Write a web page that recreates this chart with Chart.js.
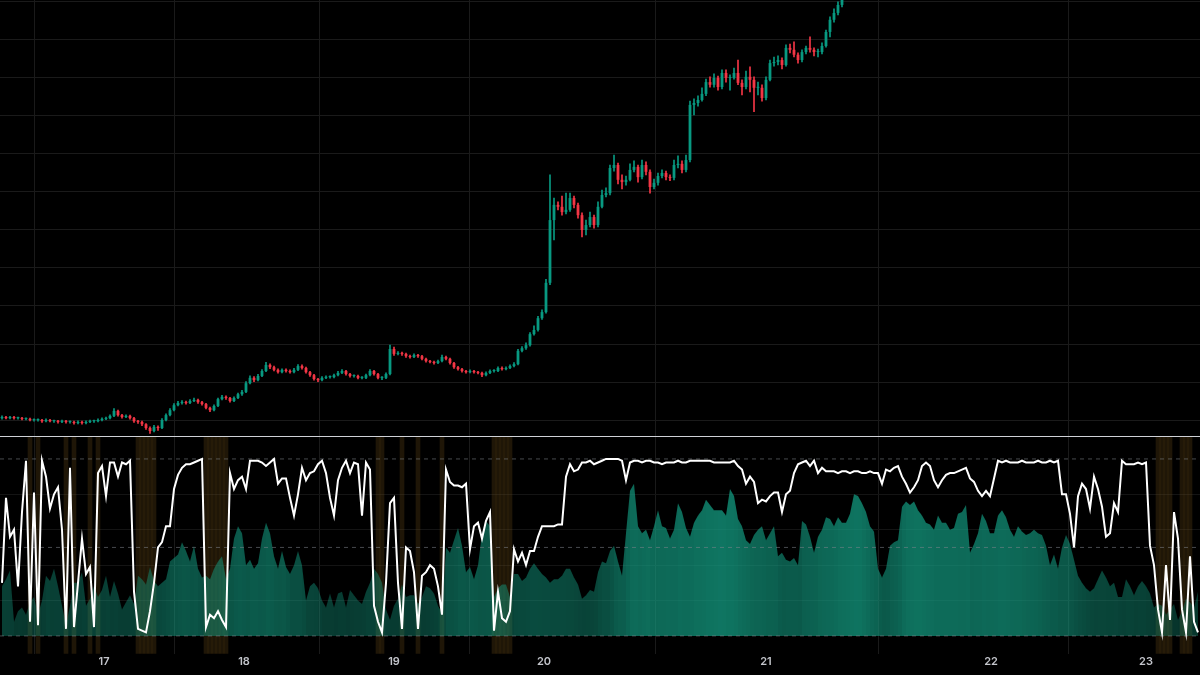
<!DOCTYPE html>
<html>
<head>
<meta charset="utf-8">
<script src="https://cdn.jsdelivr.net/npm/chart.js@4.4.0/dist/chart.umd.min.js"></script>
<style>
  html, body { margin: 0; padding: 0; background: #000; }
  body { width: 1200px; height: 675px; position: relative; overflow: hidden; }
  #pricePane { position: absolute; left: 0; top: 0; width: 1200px; height: 436px; }
  #sep { position: absolute; left: 0; top: 436px; width: 1200px; height: 1px; background: #cfd1d6; }
  #oscPane { position: absolute; left: 0; top: 437px; width: 1200px; height: 238px; }
</style>
</head>
<body>
<div id="pricePane"><canvas id="priceChart"></canvas></div>
<div id="sep"></div>
<div id="oscPane"><canvas id="oscChart"></canvas></div>
<script>
// day separators (bar index of each midnight) and their labels
const dayTicks = [25.5, 60.5, 98, 135.5, 191, 247.25, 286];
const dayLabels = ["17", "18", "19", "20", "21", "22", "23"];
const priceGrid = [100, 110, 120, 130, 140, 150, 160, 170, 180, 190, 200, 210];
const oscGrid = [20, 40, 60, 80];
const oscLevels = [0, 50, 100];

// candles (the rest of the bars are above the visible price range)
const opens = [
  100.5, 100.8, 100.5, 100.8, 100.5, 100.5, 100.3, 100.3, 100, 100,
  100, 99.7, 100, 99.7, 99.7, 99.5, 99.7, 99.5, 99.5, 99.2,
  99.5, 99.2, 99.5, 99.7, 99.7, 100, 100.3, 100.5, 101.1, 102.4,
  101.3, 100.8, 101.1, 100.5, 99.7, 99.5, 98.9, 97.9, 97.1, 98.2,
  97.9, 100, 101.3, 102.6, 103.9, 104.5, 104.7, 104.5, 105, 105.3,
  104.7, 104.2, 103.2, 102.6, 103.7, 105.5, 106.1, 105.8, 105, 105.8,
  106.8, 107.4, 109.7, 111.1, 110.5, 111.6, 112.9, 114.5, 113.9, 113.2,
  112.6, 113.2, 112.9, 112.6, 113.2, 114.2, 113.7, 112.6, 111.8, 110.8,
  110.5, 111.1, 111.3, 111.3, 111.8, 112.4, 112.9, 112.1, 111.6, 111.6,
  111.1, 111.1, 111.8, 112.9, 112.1, 111.1, 111.1, 112.1, 118.7, 117.4,
  117.6, 117.4, 116.8, 116.6, 117.1, 116.8, 116.1, 115.5, 115.3, 115,
  115.5, 116.6, 116.1, 115, 113.9, 113.4, 112.9, 112.6, 112.9, 112.6,
  112.4, 111.8, 112.4, 112.9, 112.9, 113.7, 113.4, 113.7, 114.2, 114.7,
  118.2, 118.9, 119.7, 122.6, 123.7, 126.8, 128.4, 136.1, 152.6, 156.6,
  156.1, 154.7, 155.3, 158.4, 156.6, 153.9, 150, 151.3, 153.4, 151.3,
  156.1, 159.2, 159.7, 166.3, 167.1, 163.2, 162.6, 163.2, 165.8, 166.6,
  163.9, 167.1, 165.3, 161.3, 162.4, 164.2, 165, 163.9, 163.7, 167.1,
  167.4, 165.8, 168.4, 182.9, 183.4, 184.2, 185.8, 188.9, 188.2, 190,
  187.6, 191.3, 190, 190, 191.3, 188.7, 187.6, 190.3, 189.5, 187.4,
  187.4, 184.7, 189.5, 193.9, 194.2, 194.7, 193.4, 197.9, 197.4, 196.1,
  194.7, 196.8, 197.9, 197.4, 196.8, 196.8, 198.4, 202.1, 205.3, 207.1,
  209.2
];
const highs = [
  101.1, 101.0, 101.0, 101.0, 100.8, 100.7, 100.6, 100.5, 100.3, 100.3,
  100.2, 100.3, 100.2, 100.0, 99.9, 100.0, 99.9, 99.8, 99.7, 99.8,
  99.7, 99.8, 100.0, 100.0, 100.3, 100.6, 100.8, 101.4, 103.0, 102.6,
  101.5, 101.4, 101.3, 100.7, 99.9, 99.7, 99.1, 98.2, 98.6, 98.5,
  100.4, 101.6, 103.0, 104.3, 104.9, 105.1, 105.0, 105.4, 105.8, 105.5,
  104.9, 104.4, 103.4, 104.0, 105.8, 106.5, 106.4, 106.0, 106.1, 107.1,
  107.8, 110.1, 111.6, 111.4, 112.0, 113.3, 115.2, 114.8, 114.2, 113.5,
  113.5, 113.5, 113.2, 113.6, 114.6, 114.5, 113.9, 112.8, 112.0, 111.0,
  111.4, 111.6, 111.6, 112.1, 112.8, 113.3, 113.1, 112.3, 111.9, 111.8,
  111.4, 112.1, 113.3, 113.1, 112.3, 111.4, 112.4, 119.7, 119.2, 118.0,
  117.9, 117.6, 117.1, 117.4, 117.3, 117.0, 116.3, 115.7, 115.5, 115.8,
  117.1, 116.8, 116.3, 115.2, 114.1, 113.6, 113.1, 113.2, 113.1, 112.8,
  112.6, 112.7, 113.2, 113.3, 114.0, 114.0, 114.0, 114.5, 115.1, 118.6,
  119.3, 120.3, 123.0, 124.8, 127.3, 129.0, 137.0, 164.5, 158.4, 157.4,
  158.9, 159.7, 159.7, 158.9, 157.1, 154.5, 152.6, 154.7, 153.9, 157.4,
  160.5, 161.1, 167.1, 169.7, 167.6, 164.5, 164.2, 167.4, 168.2, 167.1,
  168.4, 167.9, 165.8, 163.4, 165.0, 165.8, 165.5, 164.5, 168.4, 169.5,
  168.2, 169.7, 183.9, 184.5, 185.3, 187.4, 189.7, 190.3, 191.1, 190.5,
  192.1, 192.1, 190.8, 192.6, 194.7, 189.5, 191.8, 192.9, 190.3, 188.9,
  188.2, 190.3, 194.7, 195.5, 195.8, 195.3, 198.7, 198.9, 199.5, 196.6,
  197.4, 198.4, 200.8, 197.9, 197.6, 199.2, 202.6, 206.1, 208.2, 210.0,
  213.0
];
const lows = [
  100.2, 100.3, 100.3, 100.2, 100.2, 100.0, 100.0, 99.8, 99.7, 99.7,
  99.4, 99.5, 99.5, 99.4, 99.2, 99.3, 99.2, 99.2, 98.9, 99.0,
  98.9, 99.0, 99.3, 99.4, 99.5, 99.8, 100.1, 100.3, 100.9, 101.0,
  100.5, 100.6, 100.2, 99.4, 99.1, 98.5, 97.5, 96.5, 96.9, 97.3,
  97.7, 99.8, 101.1, 102.4, 103.7, 104.2, 104.2, 104.3, 104.8, 104.4,
  103.9, 102.9, 102.2, 102.4, 103.5, 105.3, 105.4, 104.7, 104.8, 105.6,
  106.5, 107.2, 109.5, 110.1, 110.3, 111.4, 112.7, 113.5, 112.9, 112.3,
  112.4, 112.6, 112.3, 112.4, 113.0, 113.4, 112.3, 111.5, 110.5, 110.1,
  110.3, 110.9, 111.0, 111.1, 111.6, 112.2, 111.8, 111.3, 111.3, 110.8,
  110.8, 110.9, 111.6, 111.8, 110.8, 110.6, 110.9, 111.9, 117.0, 117.1,
  117.0, 116.5, 116.3, 116.4, 116.5, 115.8, 115.2, 115.0, 114.7, 114.8,
  115.3, 115.8, 114.7, 113.6, 113.1, 112.6, 112.3, 112.4, 112.3, 112.1,
  111.4, 111.6, 112.2, 112.6, 112.7, 113.1, 113.2, 113.5, 114.0, 114.5,
  117.9, 118.6, 119.4, 122.3, 123.4, 126.5, 128.1, 135.6, 147.4, 155.3,
  153.9, 154.2, 154.9, 155.8, 153.1, 148.2, 148.7, 150.8, 150.5, 150.8,
  155.8, 158.7, 159.2, 165.5, 162.1, 160.8, 161.8, 162.9, 165.3, 162.6,
  163.4, 164.5, 159.7, 160.8, 161.8, 163.7, 163.2, 163.0, 163.2, 166.3,
  165.0, 165.3, 167.9, 180.3, 182.6, 183.9, 185.3, 187.6, 187.6, 186.8,
  187.1, 188.9, 186.8, 189.7, 188.2, 185.5, 187.1, 186.3, 181.1, 185.5,
  183.9, 184.2, 189.2, 193.1, 193.4, 192.4, 193.1, 196.6, 195.5, 193.9,
  194.2, 196.3, 196.8, 195.8, 195.5, 196.3, 198.1, 200.8, 204.7, 206.6,
  208.7
];
const closes = [
  100.8, 100.5, 100.8, 100.5, 100.5, 100.3, 100.3, 100, 100, 100,
  99.7, 100, 99.7, 99.7, 99.5, 99.7, 99.5, 99.5, 99.2, 99.5,
  99.2, 99.5, 99.7, 99.7, 100, 100.3, 100.5, 101.1, 102.4, 101.3,
  100.8, 101.1, 100.5, 99.7, 99.5, 98.9, 97.9, 97.1, 98.2, 97.9,
  100, 101.3, 102.6, 103.9, 104.5, 104.7, 104.5, 105, 105.3, 104.7,
  104.2, 103.2, 102.6, 103.7, 105.5, 106.1, 105.8, 105, 105.8, 106.8,
  107.4, 109.7, 111.1, 110.5, 111.6, 112.9, 114.5, 113.9, 113.2, 112.6,
  113.2, 112.9, 112.6, 113.2, 114.2, 113.7, 112.6, 111.8, 110.8, 110.5,
  111.1, 111.3, 111.3, 111.8, 112.4, 112.9, 112.1, 111.6, 111.6, 111.1,
  111.1, 111.8, 112.9, 112.1, 111.1, 111.1, 112.1, 118.7, 117.4, 117.6,
  117.4, 116.8, 116.6, 117.1, 116.8, 116.1, 115.5, 115.3, 115, 115.5,
  116.6, 116.1, 115, 113.9, 113.4, 112.9, 112.6, 112.9, 112.6, 112.4,
  111.8, 112.4, 112.9, 112.9, 113.7, 113.4, 113.7, 114.2, 114.7, 118.2,
  118.9, 119.7, 122.6, 123.7, 126.8, 128.4, 136.1, 152.6, 156.6, 156.1,
  154.7, 155.3, 158.4, 156.6, 153.9, 150, 151.3, 153.4, 151.3, 156.1,
  159.2, 159.7, 166.3, 167.1, 163.2, 162.6, 163.2, 165.8, 166.6, 163.9,
  167.1, 165.3, 161.3, 162.4, 164.2, 165, 163.9, 163.7, 167.1, 167.4,
  165.8, 168.4, 182.9, 183.4, 184.2, 185.8, 188.9, 188.2, 190, 187.6,
  191.3, 190, 190, 191.3, 188.7, 187.6, 190.3, 189.5, 187.4, 187.4,
  184.7, 189.5, 193.9, 194.2, 194.7, 193.4, 197.9, 197.4, 196.1, 194.7,
  196.8, 197.9, 197.4, 196.8, 196.8, 198.4, 202.1, 205.3, 207.1, 209.2,
  211.8
];

// oscillator (white line) and the filled strength area, one value per bar
const oscLine = [
  30, 78, 56, 60, 28, 70, 99, 8, 81, 6,
  99, 90, 72, 80, 84, 60, 4, 95, 5, 30,
  55, 35, 39, 5, 92, 96, 79, 98, 98, 90,
  98, 97, 99, 25, 4, 3, 2, 14, 30, 50,
  53, 62, 62, 83, 91, 95, 97, 97, 98, 99,
  100, 5, 12, 10, 14, 9, 5, 92, 83, 88,
  90, 83, 99, 99, 99, 98, 96, 98, 100, 86,
  89, 89, 78, 68, 80, 95, 88, 92, 93, 97,
  99, 92, 78, 68, 88, 95, 99, 92, 98, 97,
  68, 98, 94, 17, 8, 2, 30, 75, 78, 30,
  4, 50, 48, 36, 4, 34, 36, 40, 38, 28,
  12, 94, 87, 85, 85, 84, 86, 49, 62, 64,
  55, 65, 70, 3, 25, 10, 8, 14, 49, 42,
  47, 40, 48, 48, 56, 62, 62, 62, 62, 63,
  63, 90, 97, 93, 94, 98, 98, 99, 97, 98,
  99, 100, 100, 100, 100, 99, 88, 98, 99, 99,
  98, 99, 99, 98, 98, 97, 98, 98, 98, 99,
  98, 98, 99, 99, 99, 99, 99, 99, 98, 98,
  98, 98, 98, 99, 96, 94, 86, 90, 87, 75,
  77, 76, 79, 81, 81, 70, 80, 82, 92, 97,
  98, 99, 96, 99, 92, 95, 93, 93, 93, 92,
  93, 93, 92, 93, 93, 92, 92, 93, 92, 92,
  86, 94, 93, 95, 96, 90, 86, 81, 84, 88,
  96, 98, 96, 88, 84, 88, 91, 92, 92, 93,
  94, 95, 89, 87, 82, 79, 82, 79, 89, 99,
  98, 99, 98, 98, 98, 99, 98, 98, 98, 99,
  98, 98, 99, 98, 99, 80, 80, 69, 50, 79,
  86, 83, 72, 90, 83, 73, 56, 58, 75, 70,
  99, 97, 97, 97, 98, 97, 98, 51, 40, 15,
  2, 40, 9, 70, 55, 15, 2, 45, 8, 2
];
const strength = [
  28, 32, 37, 8, 14, 16, 12, 19, 22, 12,
  20, 34, 31, 38, 28, 17, 6, 17, 30, 30,
  36, 17, 21, 28, 22, 26, 34, 22, 31, 24,
  15, 19, 23, 18, 34, 32, 29, 39, 31, 28,
  30, 32, 42, 44, 46, 53, 48, 42, 51, 38,
  33, 34, 32, 38, 42, 45, 32, 38, 55, 62,
  58, 40, 43, 38, 41, 55, 64, 58, 45, 38,
  48, 39, 35, 40, 48, 40, 20, 28, 30, 27,
  20, 16, 24, 16, 24, 25, 16, 26, 23, 20,
  18, 25, 30, 38, 35, 30, 15, 9, 17, 21,
  29, 22, 23, 23, 18, 22, 28, 27, 24, 17,
  13, 50, 47, 54, 61, 51, 36, 39, 32, 40,
  58, 65, 62, 22, 27, 29, 29, 22, 35, 35,
  31, 33, 38, 41, 38, 35, 33, 30, 32, 32,
  34, 38, 38, 33, 29, 21, 23, 26, 25, 36,
  42, 41, 48, 51, 42, 34, 58, 82, 86, 62,
  58, 60, 54, 62, 71, 62, 61, 55, 60, 75,
  70, 61, 56, 64, 68, 71, 77, 74, 71, 71,
  71, 68, 83, 79, 66, 62, 54, 52, 57, 60,
  62, 54, 58, 62, 45, 47, 43, 42, 44, 40,
  65, 63, 56, 47, 56, 60, 67, 66, 62, 67,
  64, 64, 69, 80, 79, 75, 70, 62, 59, 38,
  33, 38, 51, 53, 54, 73, 76, 74, 76, 71,
  68, 64, 63, 60, 68, 64, 64, 60, 61, 69,
  70, 74, 47, 52, 58, 69, 65, 58, 58, 68,
  71, 67, 60, 56, 62, 59, 57, 58, 60, 58,
  57, 51, 40, 46, 38, 50, 57, 52, 43, 34,
  30, 27, 25, 27, 32, 37, 33, 28, 30, 22,
  22, 32, 28, 23, 28, 31, 28, 24, 16, 18,
  17, 12, 15, 18, 9, 14, 21, 19, 16, 25
];
// bars highlighted with the brown background
const flaggedBars = [7, 9, 16, 18, 22, 24, 34, 35, 36, 37, 38, 51, 52, 53, 54, 55, 56,
  94, 95, 100, 104, 110, 123, 124, 125, 126, 127, 289, 290, 291, 292, 295, 296, 297];

const BAR_COUNT = oscLine.length;
const UP = "#089981";
const DOWN = "#f23645";
const GRID = "#1a1a1a";

Chart.defaults.font.family = "Inter, 'DejaVu Sans', sans-serif";
Chart.defaults.animation = false;

function setTicks(values) {
  return function (scale) {
    scale.ticks = values.map(function (v) { return { value: v }; });
  };
}

function candleColor(ctx) {
  let i = ctx.dataIndex;
  return closes[i] >= opens[i] ? UP : DOWN;
}

// shade of the area: brighter where the strength stays high for a while
function areaShade(i) {
  let sum = 0, n = 0;
  for (let k = i - 4; k <= i + 4; k += 1) {
    if (k >= 0 && k < strength.length) { sum += strength[k]; n += 1; }
  }
  let avg = sum / n;
  let a = 0.22 + avg * 0.0058 + strength[i] * 0.0012;
  a = Math.min(0.78, a);
  return "rgba(20, 160, 133, " + a.toFixed(3) + ")";
}

let xRange = { min: -0.5, max: BAR_COUNT - 0.5 };

//price pane--
let wickData = closes.map(function (c, i) { return { x: i, y: [lows[i], highs[i]] }; });
let bodyData = closes.map(function (c, i) { return { x: i, y: [opens[i], closes[i]] }; });

new Chart(document.getElementById("priceChart"), {
  type: "bar",
  data: {
    datasets: [
      {
        data: wickData,
        backgroundColor: candleColor,
        barThickness: 1,
        grouped: false,
        order: 2,
      },
      {
        data: bodyData,
        backgroundColor: candleColor,
        categoryPercentage: 1,
        barPercentage: 0.7,
        minBarLength: 1,
        grouped: false,
        order: 1,
      },
    ],
  },
  options: {
    responsive: true,
    maintainAspectRatio: false,
    events: [],
    layout: { padding: 0 },
    plugins: { legend: { display: false }, tooltip: { enabled: false } },
    scales: {
      x: {
        type: "linear",
        min: xRange.min,
        max: xRange.max,
        offset: false,
        afterBuildTicks: setTicks(dayTicks),
        grid: { color: GRID, drawTicks: false },
        border: { display: false },
        ticks: { display: false },
      },
      y: {
        min: 95.8,
        max: 210.5,
        afterBuildTicks: setTicks(priceGrid),
        grid: { color: GRID, drawTicks: false },
        border: { display: false },
        ticks: { display: false },
      },
    },
  },
});

//oscillator pane--
let bandData = flaggedBars.map(function (i) { return { x: i, y: [-10.1, 112.4] }; });
let strengthData = strength.map(function (v, i) { return { x: i, y: v }; });
let lineData = oscLine.map(function (v, i) { return { x: i, y: v }; });

let levelSets = oscLevels.map(function (lv) {
  return {
    type: "line",
    data: [{ x: xRange.min, y: lv }, { x: xRange.max, y: lv }],
    borderColor: "rgba(130, 133, 140, 0.55)",
    borderWidth: 1,
    borderDash: [4, 4],
    pointRadius: 0,
    order: 1,
  };
});

new Chart(document.getElementById("oscChart"), {
  type: "bar",
  data: {
    datasets: [
      {
        data: bandData,
        backgroundColor: "rgba(112, 78, 24, 0.28)",
        categoryPercentage: 1,
        barPercentage: 1,
        grouped: false,
        order: 5,
      },
      {
        type: "line",
        data: strengthData,
        borderWidth: 0,
        borderColor: "rgba(0, 0, 0, 0)",
        backgroundColor: "rgba(20, 160, 133, 0.5)",
        pointRadius: 0,
        tension: 0,
        fill: { target: { value: 0 } },
        segment: {
          backgroundColor: function (ctx) { return areaShade(ctx.p0DataIndex); },
        },
        order: 2,
      },
      {
        type: "line",
        data: lineData,
        borderColor: "#ffffff",
        borderWidth: 2,
        pointRadius: 0,
        tension: 0,
        order: 0,
      },
    ].concat(levelSets),
  },
  options: {
    responsive: true,
    maintainAspectRatio: false,
    events: [],
    layout: { padding: { left: 0, right: 0, top: 0, bottom: 6 } },
    plugins: { legend: { display: false }, tooltip: { enabled: false } },
    scales: {
      x: {
        type: "linear",
        min: xRange.min,
        max: xRange.max,
        offset: false,
        afterBuildTicks: setTicks(dayTicks),
        grid: { color: GRID, drawTicks: false },
        border: { display: false },
        ticks: {
          padding: 1,
          autoSkip: false,
          maxRotation: 0,
          color: "#c3c5cb",
          font: { size: 11, weight: "600" },
          callback: function (value, index) { return dayLabels[index]; },
        },
      },
      y: {
        min: -10.1,
        max: 112.4,
        afterBuildTicks: setTicks(oscGrid),
        grid: { color: "#141414", drawTicks: false },
        border: { display: false },
        ticks: { display: false },
      },
    },
  },
});
</script>
</body>
</html>
